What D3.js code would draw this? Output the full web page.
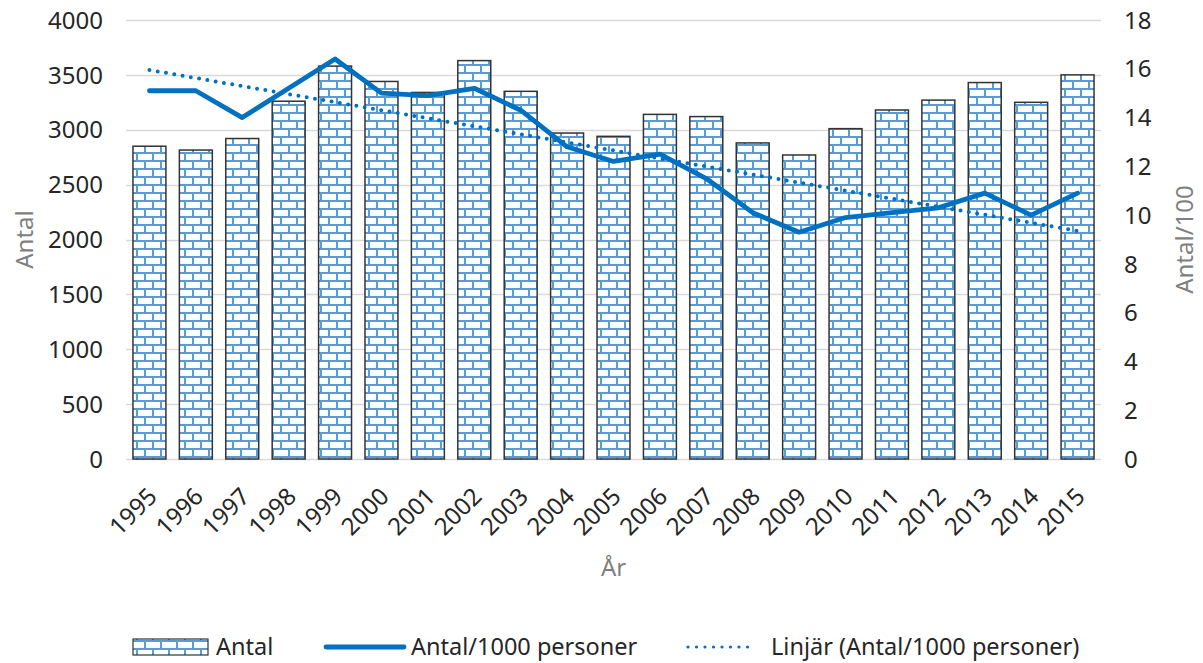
<!DOCTYPE html>
<html>
<head>
<meta charset="utf-8">
<script src="https://cdn.jsdelivr.net/npm/d3@7"></script>
<style>
  body { margin: 0; background: #fff; }
  svg { font-family: 'Noto Sans', sans-serif; }
  .grid line { stroke: #d9d9d9; stroke-width: 1.3; }
  .tick-label { fill: #262626; font-size: 24px; }
  .axis-title { fill: #7f7f7f; font-size: 24px; }
  .legend text { fill: #262626; font-size: 23.5px; }
</style>
</head>
<body>
<svg id="chart" width="1203" height="663"></svg>
<script>
  // data
  var years = ['1995', '1996', '1997', '1998', '1999', '2000', '2001', '2002', '2003', '2004', '2005',
    '2006', '2007', '2008', '2009', '2010', '2011', '2012', '2013', '2014', '2015'];
  var antal = [2850, 2815, 2920, 3260, 3580, 3440, 3340, 3630, 3350, 2970, 2940,
    3140, 3120, 2880, 2770, 3010, 3180, 3270, 3430, 3250, 3500];
  var perTusen = [15.1, 15.1, 14.0, 15.2, 16.4, 15.0, 14.9, 15.2, 14.3, 12.8, 12.2,
    12.5, 11.5, 10.1, 9.3, 9.9, 10.1, 10.3, 10.9, 10.0, 10.9];
  var leftTicks = [0, 500, 1000, 1500, 2000, 2500, 3000, 3500, 4000];
  var rightTicks = [0, 2, 4, 6, 8, 10, 12, 14, 16, 18];

  (function () {
    'use strict';

    var blue = '#0070c0';
    var brick = '#5b9bd5';

    var svg = d3.select('#chart');
    var margin = { left: 126, right: 1101, top: 20, bottom: 459 };

    var x = d3.scaleBand()
      .domain(years)
      .range([margin.left, margin.right])
      .paddingInner(0.29)
      .paddingOuter(0.15);
    var yLeft = d3.scaleLinear().domain([0, 4000]).range([margin.bottom, margin.top]);
    var yRight = d3.scaleLinear().domain([0, 18]).range([margin.bottom, margin.top]);

    // brick pattern
    var pat = svg.append('defs').append('pattern')
      .attr('id', 'bricks')
      .attr('patternUnits', 'userSpaceOnUse')
      .attr('width', 16)
      .attr('height', 16);
    pat.append('rect').attr('width', 16).attr('height', 16).attr('fill', '#fff');
    pat.append('rect').attr('x', 0).attr('y', 0).attr('width', 16).attr('height', 2).attr('fill', brick);
    pat.append('rect').attr('x', 0).attr('y', 8).attr('width', 16).attr('height', 2).attr('fill', brick);
    pat.append('rect').attr('x', 0).attr('y', 0).attr('width', 2).attr('height', 8).attr('fill', brick);
    pat.append('rect').attr('x', 8).attr('y', 8).attr('width', 2).attr('height', 8).attr('fill', brick);

    // gridlines
    svg.append('g')
      .attr('class', 'grid')
      .selectAll('line')
      .data(leftTicks)
      .enter()
      .append('line')
      .attr('x1', margin.left)
      .attr('x2', margin.right)
      .attr('y1', function(d) { return Math.round(yLeft(d)) + 0.5; })
      .attr('y2', function(d) { return Math.round(yLeft(d)) + 0.5; });

    // left tick labels
    svg.append('g')
      .selectAll('text')
      .data(leftTicks)
      .enter()
      .append('text')
      .attr('class', 'tick-label')
      .attr('x', 103)
      .attr('y', function(d) { return yLeft(d); })
      .attr('dy', '0.36em')
      .attr('text-anchor', 'end')
      .text(function(d) { return d; });

    // right tick labels
    svg.append('g')
      .selectAll('text')
      .data(rightTicks)
      .enter()
      .append('text')
      .attr('class', 'tick-label')
      .attr('x', 1124)
      .attr('y', function(d) { return yRight(d); })
      .attr('dy', '0.36em')
      .attr('text-anchor', 'start')
      .text(function(d) { return d; });

    // bars
    svg.append('g')
      .selectAll('rect')
      .data(antal)
      .enter()
      .append('rect')
      .attr('x', function(d, i) { return x(years[i]); })
      .attr('y', function(d) { return yLeft(d); })
      .attr('width', x.bandwidth())
      .attr('height', function(d) { return yLeft(0) - yLeft(d); })
      .attr('fill', 'url(#bricks)')
      .attr('stroke', '#333')
      .attr('stroke-width', 1.5);

    var cx = function(i) { return x(years[i]) + x.bandwidth() / 2; };

    // linear trend (least squares, as the spreadsheet does)
    var n = perTusen.length;
    var mx = (n - 1) / 2;
    var my = d3.mean(perTusen);
    var sxy = d3.sum(perTusen, function(d, i) { return (i - mx) * (d - my); });
    var sxx = d3.sum(perTusen, function(d, i) { return (i - mx) * (i - mx); });
    var slope = sxy / sxx;
    var trend = [0, n - 1].map(function(i) { return { i: i, v: my + slope * (i - mx) }; });

    svg.append('path')
      .datum(trend)
      .attr('d', d3.line()
        .x(function(d) { return cx(d.i); })
        .y(function(d) { return yRight(d.v); }))
      .attr('fill', 'none')
      .attr('stroke', blue)
      .attr('stroke-width', 4)
      .attr('stroke-linecap', 'round')
      .attr('stroke-dasharray', '0 8.4');

    // main line
    svg.append('path')
      .datum(perTusen)
      .attr('d', d3.line()
        .x(function(d, i) { return cx(i); })
        .y(function(d) { return yRight(d); }))
      .attr('fill', 'none')
      .attr('stroke', blue)
      .attr('stroke-width', 4.8)
      .attr('stroke-linejoin', 'round')
      .attr('stroke-linecap', 'round');

    // x labels
    svg.append('g')
      .selectAll('text')
      .data(years)
      .enter()
      .append('text')
      .attr('class', 'tick-label')
      .attr('transform', function(d, i) {
        return 'translate(' + (cx(i) + 3) + ',' + 492 + ') rotate(-45)';
      })
      .attr('text-anchor', 'end')
      .attr('dy', '0.35em')
      .text(function(d) { return d; });

    // axis titles
    var midY = (margin.top + margin.bottom) / 2;
    svg.append('text')
      .attr('class', 'axis-title')
      .attr('transform', 'translate(33,' + midY + ') rotate(-90)')
      .attr('text-anchor', 'middle')
      .text('Antal');
    svg.append('text')
      .attr('class', 'axis-title')
      .attr('transform', 'translate(1193,' + midY + ') rotate(-90)')
      .attr('text-anchor', 'middle')
      .text('Antal/100');
    svg.append('text')
      .attr('class', 'axis-title')
      .attr('x', (margin.left + margin.right) / 2)
      .attr('y', 576)
      .attr('text-anchor', 'middle')
      .text('År');

    // legend
    var legend = svg.append('g').attr('class', 'legend');
    var ly = 647;
    legend.append('rect')
      .attr('x', 133).attr('y', ly - 8)
      .attr('width', 75).attr('height', 16)
      .attr('fill', 'url(#bricks)')
      .attr('stroke', '#333').attr('stroke-width', 1.2);
    legend.append('text').attr('x', 216).attr('y', ly).attr('dy', '0.35em').text('Antal');
    legend.append('line')
      .attr('x1', 326).attr('x2', 404).attr('y1', ly).attr('y2', ly)
      .attr('stroke', blue).attr('stroke-width', 4.8).attr('stroke-linecap', 'round');
    legend.append('text').attr('x', 411).attr('y', ly).attr('dy', '0.35em').text('Antal/1000 personer');
    legend.append('line')
      .attr('x1', 688).attr('x2', 756).attr('y1', ly).attr('y2', ly)
      .attr('stroke', blue).attr('stroke-width', 3.2)
      .attr('stroke-linecap', 'round').attr('stroke-dasharray', '0 8.5');
    legend.append('text').attr('x', 771).attr('y', ly).attr('dy', '0.35em').text('Linjär (Antal/1000 personer)');
  }());
</script>
</body>
</html>
